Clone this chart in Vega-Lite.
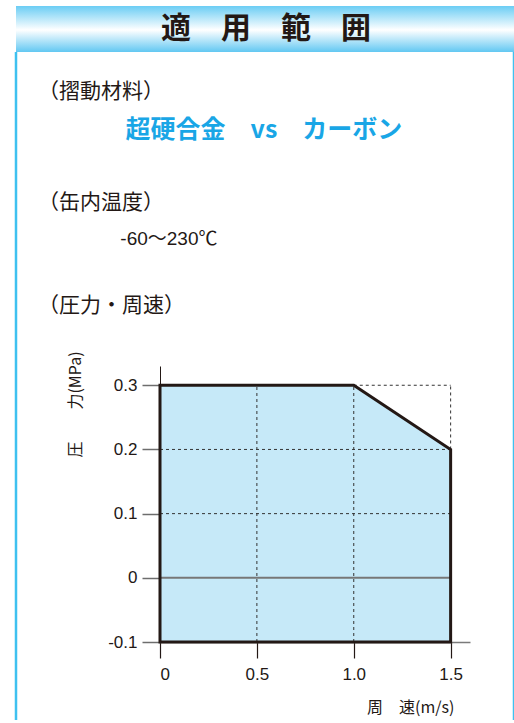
{
  "$schema": "https://vega.github.io/schema/vega-lite/v6.json",
  "background": "white",
  "padding": {"left": 14, "top": 6, "right": 0, "bottom": 0},
  "spacing": 0,
  "bounds": "flush",
  "datasets": {
    "envelope": [
      {"speed": 0, "pressure": 0.3, "pressure_min": -0.1},
      {"speed": 1.0, "pressure": 0.3, "pressure_min": -0.1},
      {"speed": 1.5, "pressure": 0.2, "pressure_min": -0.1}
    ],
    "grid": [
      {"speed": 0.5, "speed_end": 0.5, "pressure": -0.1, "pressure_end": 0.3},
      {"speed": 1.0, "speed_end": 1.0, "pressure": -0.1, "pressure_end": 0.3},
      {"speed": 1.5, "speed_end": 1.5, "pressure": 0.2, "pressure_end": 0.3},
      {"speed": 0, "speed_end": 1.5, "pressure": 0.1, "pressure_end": 0.1},
      {"speed": 0, "speed_end": 1.5, "pressure": 0.2, "pressure_end": 0.2},
      {"speed": 1.0, "speed_end": 1.5, "pressure": 0.3, "pressure_end": 0.3}
    ],
    "zero_line": [
      {"speed": 0, "speed_end": 1.5, "pressure": 0, "pressure_end": 0}
    ]
  },
  "vconcat": [
    {
      "width": 500,
      "height": 46,
      "view": {
        "stroke": null,
        "fill": {
          "gradient": "linear", "x1": 0, "y1": 0, "x2": 0, "y2": 1,
          "stops": [
            {"offset": 0, "color": "#6BCDF4"},
            {"offset": 0.52, "color": "#FFFFFF"},
            {"offset": 1, "color": "#62C8F2"}
          ]
        }
      },
      "data": {"values": [{"label": "適　用　範　囲"}]},
      "mark": {"type": "text", "font": "Noto Sans CJK JP", "fontSize": 30, "fontWeight": "bold", "color": "#231815"},
      "encoding": {"text": {"field": "label"}}
    },
    {
      "width": 498,
      "height": 118,
      "view": {"stroke": "#3EC1F0", "strokeWidth": 2.5, "strokeDash": [0, 498, 118, 498, 118], "fill": null},
      "title": {
        "text": "（摺動材料）",
        "subtitle": "\u200b\u3000\u3000\u3000\u2002超硬合金\u3000vs\u3000カーボン",
        "anchor": "start", "frame": "group", "orient": "top", "offset": -91, "dx": 22,
        "font": "Noto Sans CJK JP", "fontSize": 21, "fontWeight": "normal", "color": "#231815",
        "subtitleFont": "Noto Sans CJK JP", "subtitleFontSize": 25, "subtitleFontWeight": "bold",
        "subtitleColor": "#19A6E6", "subtitlePadding": 16
      },
      "data": {"values": []},
      "mark": "point"
    },
    {
      "width": 498,
      "height": 100,
      "view": {"stroke": "#3EC1F0", "strokeWidth": 2.5, "strokeDash": [0, 498, 100, 498, 100], "fill": null},
      "title": {
        "text": "（缶内温度）",
        "subtitle": "\u200b\u3000\u3000\u3000\u3000\u2004-60〜230℃",
        "anchor": "start", "frame": "group", "orient": "top", "offset": -79, "dx": 22,
        "font": "Noto Sans CJK JP", "fontSize": 21, "fontWeight": "normal", "color": "#231815",
        "subtitleFont": "Liberation Sans, Noto Sans CJK JP", "subtitleFontSize": 19, "subtitleFontWeight": "normal",
        "subtitleColor": "#231815", "subtitlePadding": 17
      },
      "data": {"values": []},
      "mark": "point"
    },
    {
      "width": 498,
      "height": 450,
      "view": {"stroke": "#3EC1F0", "strokeWidth": 2.5, "strokeDash": [0, 498, 450, 498, 450], "fill": null},
      "title": {
        "text": "（圧力・周速）",
        "anchor": "start", "frame": "group", "orient": "top", "offset": -46, "dx": 22,
        "font": "Noto Sans CJK JP", "fontSize": 21, "fontWeight": "normal", "color": "#231815"
      },
      "layer": [
        {
          "data": {"name": "envelope"},
          "mark": {"type": "area", "fill": "#C6E9F8", "stroke": null},
          "encoding": {
            "x": {
              "field": "speed", "type": "quantitative",
              "scale": {"domain": [0, 1.6], "range": [144, 454], "nice": false, "zero": false},
              "axis": {
                "offset": -78, "values": [0, 0.5, 1, 1.5], "grid": false,
                "labelExpr": "datum.value == 0 ? '0' : format(datum.value, '.1f')",
                "labelFont": "Liberation Sans", "labelFontSize": 17, "labelColor": "#231815", "labelPadding": 8,
                "tickSize": 16, "tickColor": "#231815", "tickWidth": 1.2,
                "domainColor": "#7a7a7a", "domainWidth": 1.5,
                "title": "周　速(m/s)", "titleFont": "Noto Sans CJK JP", "titleFontSize": 16, "titleFontWeight": "normal",
                "titleColor": "#231815", "titleX": 438, "titleY": 65, "titleAlign": "right", "titleBaseline": "middle"
              }
            },
            "y": {
              "field": "pressure", "type": "quantitative",
              "scale": {"domain": [-0.1, 0.33], "range": [372, 96], "nice": false, "zero": false},
              "axis": {
                "offset": -144, "values": [-0.1, 0, 0.1, 0.2, 0.3], "grid": false,
                "labelExpr": "datum.value == 0 ? '0' : (datum.value < 0 ? '-' : '') + format(abs(datum.value), '.1f')",
                "labelFont": "Liberation Sans", "labelFontSize": 17, "labelColor": "#231815", "labelPadding": 5,
                "tickSize": 18, "tickColor": "#6d6d6d", "tickWidth": 1.5,
                "domainColor": "#231815", "domainWidth": 1,
                "title": "圧　　力(MPa)", "titleFont": "Noto Sans CJK JP", "titleFontSize": 16, "titleFontWeight": "normal",
                "titleColor": "#231815", "titleX": -85, "titleY": 134, "titleAngle": -90, "titleAlign": "center", "titleBaseline": "middle"
              }
            },
            "y2": {"field": "pressure_min"}
          }
        },
        {
          "data": {"name": "grid"},
          "mark": {"type": "rule", "color": "#333333", "strokeWidth": 1, "strokeDash": [3, 3]},
          "encoding": {
            "x": {"field": "speed", "type": "quantitative", "scale": {"domain": [0, 1.6], "range": [144, 454], "nice": false, "zero": false}},
            "x2": {"field": "speed_end"},
            "y": {"field": "pressure", "type": "quantitative", "scale": {"domain": [-0.1, 0.33], "range": [372, 96], "nice": false, "zero": false}},
            "y2": {"field": "pressure_end"}
          }
        },
        {
          "data": {"name": "zero_line"},
          "mark": {"type": "rule", "color": "#777777", "strokeWidth": 2},
          "encoding": {
            "x": {"field": "speed", "type": "quantitative"},
            "x2": {"field": "speed_end"},
            "y": {"field": "pressure", "type": "quantitative"},
            "y2": {"field": "pressure_end"}
          }
        },
        {
          "data": {"name": "envelope"},
          "mark": {"type": "area", "fill": "transparent", "stroke": "#231815", "strokeWidth": 3},
          "encoding": {
            "x": {"field": "speed", "type": "quantitative"},
            "y": {"field": "pressure", "type": "quantitative"},
            "y2": {"field": "pressure_min"}
          }
        }
      ]
    }
  ]
}
